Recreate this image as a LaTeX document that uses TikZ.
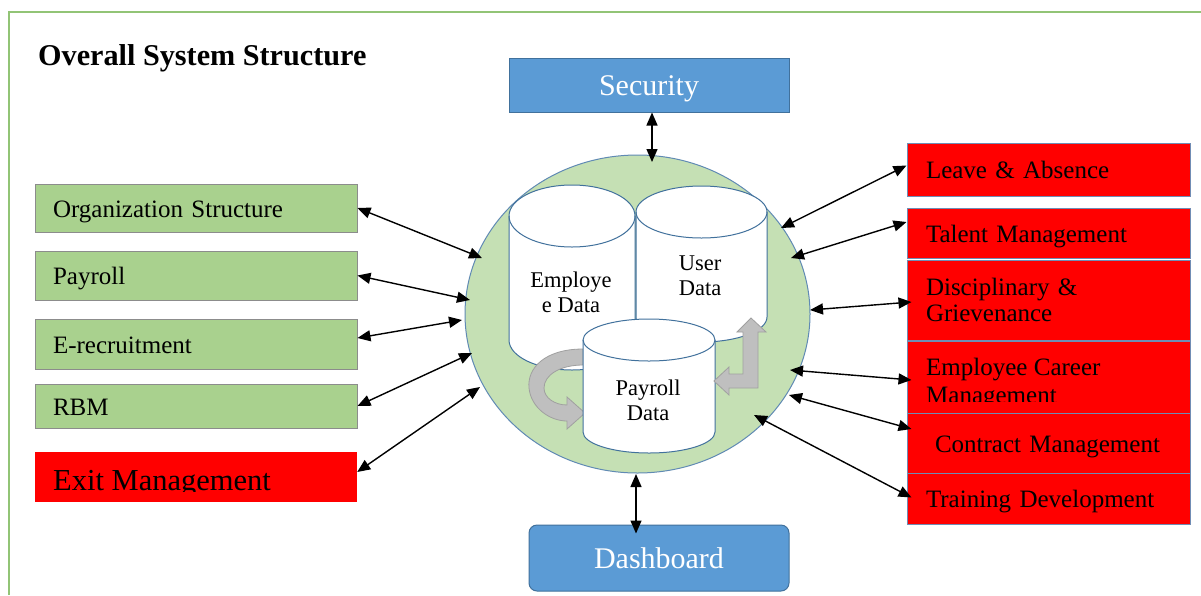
\documentclass[tikz,border=0pt]{standalone}
\usepackage{fontspec}
\setmainfont{Liberation Serif}
\usetikzlibrary{arrows.meta,shapes.geometric}
\definecolor{frameg}{RGB}{146,196,118}
\definecolor{boxg}{RGB}{169,209,142}
\definecolor{boxgb}{RGB}{140,140,140}
\definecolor{circg}{RGB}{197,224,180}
\definecolor{circb}{RGB}{96,138,180}
\definecolor{cylb}{RGB}{65,113,156}
\definecolor{secb}{RGB}{91,155,213}
\definecolor{secbd}{RGB}{65,113,156}
\definecolor{redbd}{RGB}{112,140,180}
\definecolor{arrg}{RGB}{191,191,191}
\definecolor{arrgd}{RGB}{160,160,160}
\begin{document}
\begin{tikzpicture}[x=1pt,y=-1pt,
  lbox/.style={draw=boxgb, fill=boxg, line width=1pt, minimum width=322pt,
    text width=286pt, inner xsep=18pt, inner ysep=0pt, align=left,
    text height=18pt, text depth=0pt, font=\fontsize{25}{28}\selectfont},
  rbox/.style={draw=redbd, fill=red, line width=1pt, minimum width=283pt,
    text width=245pt, inner xsep=19pt, inner ysep=0pt, align=left,
    font=\fontsize{25}{26}\selectfont},
  one/.style={text height=18pt, text depth=0pt},
  bluebox/.style={draw=secbd, fill=secb, line width=1pt, text=white,
    inner sep=0pt, text height=20.5pt, text depth=0pt, font=\fontsize{30}{32}\selectfont},
  cyl/.style={draw=cylb, fill=white, line width=1pt},
  cyltext/.style={align=center, inner sep=0pt, font=\fontsize{22.5}{25}\selectfont},
  grayarrow/.style={fill=arrg, draw=arrgd, line width=0.8pt},
  conn/.style={line width=1.4pt, <->, >={Triangle[length=13pt,width=11pt]}}
]
\useasboundingbox (0,0) rectangle (1201,595);
\fill[white] (0,0) rectangle (1201,595);
\draw[frameg, line width=2pt] (9,595) -- (9,11.5) -- (1201,11.5);

% title
\node[anchor=base west, inner sep=0pt, font=\fontsize{30.2}{32}\selectfont\bfseries] (title) at (38,65) {Overall System Structure};

% security and dashboard
\node[bluebox, minimum width=280pt, minimum height=54pt] (sec) at (649,85) {Security};
\node[bluebox, rounded corners=8pt, minimum width=260pt, minimum height=66pt] (dash) at (659,558) {Dashboard};

% hub
\node[ellipse, draw=circb, fill=circg, line width=1pt, minimum width=345pt, minimum height=318pt, inner sep=0pt] (hub) at (637.5,314) {};

% employee cylinder
\filldraw[cyl] (509,216) -- (509,340) arc[start angle=180,end angle=360,x radius=63pt,y radius=30pt] -- (635,216) arc[start angle=0,end angle=180,x radius=63pt,y radius=31pt] -- cycle;
\draw[cyl, fill=none] (509,216) arc[start angle=180,end angle=360,x radius=63pt,y radius=31pt];
\node[cyltext] (emptext) at (571,292) {Employe\\e Data};

% user cylinder
\filldraw[cyl] (636,212) -- (636,317) arc[start angle=180,end angle=360,x radius=65.5pt,y radius=25pt] -- (767,212) arc[start angle=0,end angle=180,x radius=65.5pt,y radius=26pt] -- cycle;
\draw[cyl, fill=none] (636,212) arc[start angle=180,end angle=360,x radius=65.5pt,y radius=26pt];
\node[cyltext] (usertext) at (700,276) {User\\Data};

% curved gray arrow
\filldraw[grayarrow] (583,349) .. controls (545,349) and (527,368) .. (529,388)
  .. controls (531,408) and (550,421) .. (567,421) -- (567,429) -- (585,413) -- (567,397) -- (567,405)
  .. controls (555,405) and (544,398) .. (544,388)
  .. controls (544,375) and (560,365) .. (583,365) -- cycle;

% payroll cylinder
\filldraw[cyl] (583,340) -- (583,432) arc[start angle=180,end angle=360,x radius=66pt,y radius=21pt] -- (715,340) arc[start angle=0,end angle=180,x radius=66pt,y radius=21pt] -- cycle;
\draw[cyl, fill=none] (583,340) arc[start angle=180,end angle=360,x radius=66pt,y radius=21pt];
\node[cyltext] (paytext) at (648,400) {Payroll\\Data};

% elbow gray arrow
\filldraw[grayarrow] (714,381) -- (729,367) -- (729,374) -- (743,374) -- (743,332) -- (737,332)
  -- (751,318) -- (766,332) -- (758,332) -- (758,388) -- (729,388) -- (729,395) -- cycle;

% left boxes
\node[lbox, minimum height=48pt] (org) at (196,208) {Organization Structure};
\node[lbox, minimum height=49pt] (pay) at (196,275.5) {Payroll};
\node[lbox, minimum height=50pt] (erec) at (196,344) {E-recruitment};
\node[lbox, minimum height=44pt] (rbm) at (196,406) {RBM};
\node[fill=red, minimum width=322pt, minimum height=50pt, inner sep=0pt] (exit) at (196,477) {};
\begin{scope}
  \clip (35,452) rectangle (357,491);
  \node[anchor=base west, inner sep=0pt, font=\fontsize{30.5}{32}\selectfont] (exittext) at (53,490) {Exit Management};
\end{scope}

% right boxes
\node[rbox, one, minimum height=53pt] (leave) at (1048.5,169.5) {Leave \& Absence};
\node[rbox, one, minimum height=50pt] (talent) at (1048.5,233) {Talent Management};
\node[rbox, minimum height=80pt] (disc) at (1048.5,300) {Disciplinary \&\\Grievenance};
\node[rbox, minimum height=72pt] (career) at (1048.5,377) {};
\begin{scope}
  \clip (907,341) rectangle (1190,401.5);
  \node[anchor=north west, inner sep=0pt, align=left, font=\fontsize{25}{28}\selectfont] (careertext) at (926,358) {Employee Career\\Management};
\end{scope}
\node[rbox, one, minimum height=60pt] (contract) at (1048.5,443) {\hspace*{9pt}Contract Management};
\node[rbox, one, minimum height=51pt] (training) at (1048.5,498.5) {Training Development};

% hub-side connector ends
\coordinate (hT) at (652,162);
\coordinate (hB) at (636,474);
\coordinate (hL1) at (482,258);
\coordinate (hL2) at (470,300);
\coordinate (hL3) at (462,320);
\coordinate (hL4) at (472,353);
\coordinate (hL5) at (480,387);
\coordinate (hR1) at (781,228);
\coordinate (hR2) at (791,258);
\coordinate (hR3) at (810,310);
\coordinate (hR4) at (790,370);
\coordinate (hR5) at (789,395);
\coordinate (hR6) at (754,415);

% connectors
\draw[conn] ([xshift=3pt]sec.south) -- (hT);
\draw[conn] (hB) -- ([xshift=-23pt,yshift=-9pt]dash.north);
\draw[conn] (org.east) -- (hL1);
\draw[conn] (pay.east) -- (hL2);
\draw[conn] ([yshift=6pt]erec.east) -- (hL3);
\draw[conn] (rbm.east) -- (hL4);
\draw[conn] ([yshift=5pt]exit.east) -- (hL5);
\draw[conn] (hR1) -- ([yshift=4pt]leave.west);
\draw[conn] (hR2) -- ([yshift=11pt]talent.west);
\draw[conn] (hR3) -- ([xshift=5pt,yshift=-2pt]disc.west);
\draw[conn] (hR4) -- ([xshift=5pt,yshift=-3pt]career.west);
\draw[conn] (hR5) -- ([xshift=5pt,yshift=14pt]contract.west);
\draw[conn] (hR6) -- ([xshift=5pt,yshift=1pt]training.west);
\end{tikzpicture}
\end{document}
